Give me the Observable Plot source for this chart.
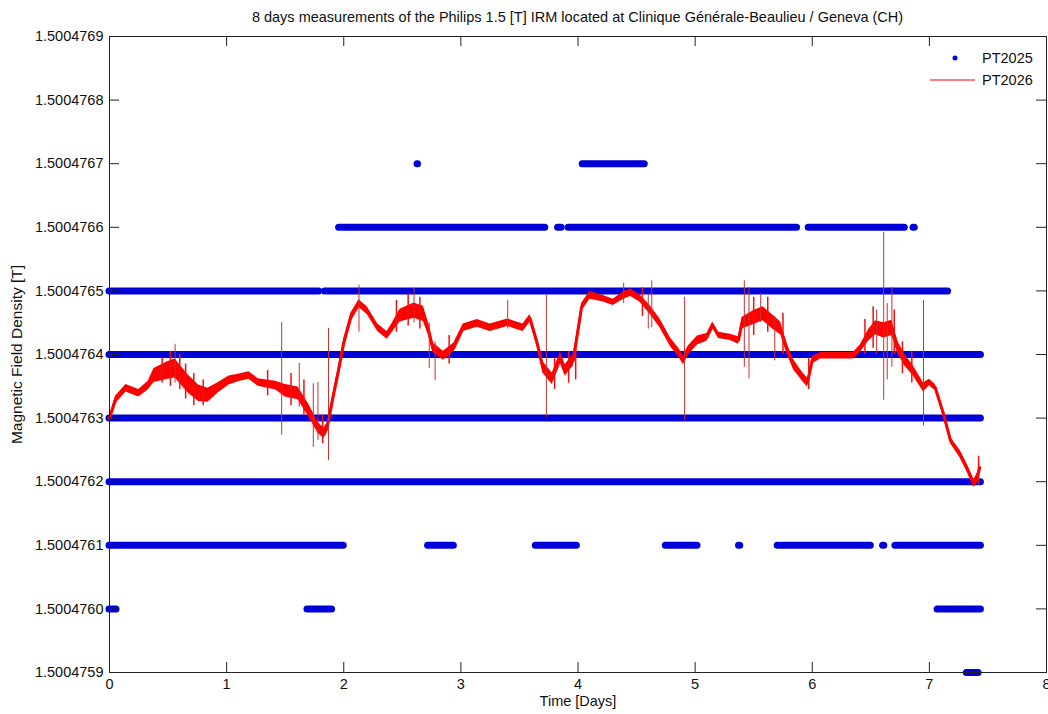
<!DOCTYPE html>
<html>
<head>
<meta charset="utf-8">
<script src="https://cdn.jsdelivr.net/npm/d3@7"></script>
<script src="https://cdn.jsdelivr.net/npm/@observablehq/plot@0.6"></script>
<style>
  html, body { margin: 0; padding: 0; background: #fff; }
  body { width: 1048px; height: 714px; position: relative; overflow: hidden;
         font-family: "Liberation Sans", Arial, sans-serif; color: #111; }
  #chart { position: absolute; top: 20px; left: 0; }
  #title { position: absolute; top: 10px; left: 109px; width: 937px; text-align: center;
           font-size: 14.5px; line-height: 14px; white-space: nowrap; z-index: 2; }
  #legend { position: absolute; left: 925px; top: 48px; font-size: 14.5px; z-index: 2; }
  .lg { position: relative; height: 22px; width: 120px; }
  .lg svg { position: absolute; left: 0; top: 0; }
  .lg span { position: absolute; left: 57px; top: 3px; line-height: 14px; }
</style>
</head>
<body>
<div id="chart"></div>
<div id="title">8 days measurements of the Philips 1.5 [T] IRM located at Clinique Générale-Beaulieu / Geneva (CH)</div>
<div id="legend">
  <div class="lg"><svg width="55" height="22"><circle cx="30" cy="10" r="2.5" fill="#0000d8"></circle></svg><span>PT2025</span></div>
  <div class="lg"><svg width="55" height="22"><line x1="5" x2="50" y1="10" y2="10" stroke="#ff0000" stroke-width="1"></line></svg><span>PT2026</span></div>
</div>
<script>
// Axis ticks
const xTicks = [0, 1, 2, 3, 4, 5, 6, 7, 8];
const yTicks = [1.5004759, 1.5004760, 1.5004761, 1.5004762, 1.5004763, 1.5004764,
                1.5004765, 1.5004766, 1.5004767, 1.5004768, 1.5004769];

// PT2025: quantized readings, runs of consecutive samples at a level [T], start/end [days]
const runLevel = [1.5004767, 1.5004767,
                  1.5004766, 1.5004766, 1.5004766, 1.5004766, 1.5004766,
                  1.5004765, 1.5004765,
                  1.5004764, 1.5004763, 1.5004762,
                  1.5004761, 1.5004761, 1.5004761, 1.5004761, 1.5004761, 1.5004761, 1.5004761, 1.5004761, 1.5004761,
                  1.5004760, 1.5004760, 1.5004760,
                  1.5004759];
const runStart = [2.630, 4.04,
                  1.96, 3.83, 3.92, 5.97, 6.865,
                  0.00, 1.84,
                  0.00, 0.00, 0.00,
                  0.00, 2.72, 3.64, 4.75, 5.375, 5.705, 5.74, 6.605, 6.71,
                  0.00, 1.69, 7.07,
                  7.32];
const runEnd   = [2.634, 4.57,
                  3.72, 3.86, 5.87, 6.79, 6.875,
                  1.79, 7.16,
                  7.44, 7.44, 7.44,
                  2.00, 2.94, 3.99, 5.02, 5.385, 5.715, 6.50, 6.615, 7.44,
                  0.06, 1.90, 7.44,
                  7.42];

// PT2026: field [T] vs time [days], with noise half-width [µT]
const redDays = [0.00, 0.05, 0.14, 0.25, 0.33, 0.38, 0.50, 0.56, 0.67, 0.76, 0.84, 0.93, 1.02, 1.10, 1.19, 1.27,
  1.42, 1.50, 1.61, 1.70, 1.78, 1.83, 1.86, 1.90, 1.95, 2.00, 2.06, 2.13, 2.20, 2.29, 2.37, 2.41, 2.48, 2.60,
  2.68, 2.72, 2.76, 2.85, 2.94, 3.02, 3.14, 3.25, 3.40, 3.53, 3.59, 3.65, 3.70, 3.78, 3.85, 3.89, 3.96, 4.00,
  4.03, 4.10, 4.21, 4.30, 4.39, 4.45, 4.53, 4.62, 4.70, 4.79, 4.86, 4.90, 4.94, 5.02, 5.10, 5.15, 5.20, 5.30,
  5.37, 5.40, 5.50, 5.58, 5.67, 5.73, 5.78, 5.84, 5.92, 5.96, 6.00, 6.07, 6.24, 6.35, 6.41, 6.48, 6.54, 6.61,
  6.68, 6.73, 6.79, 6.86, 6.95, 7.00, 7.05, 7.12, 7.18, 7.26, 7.32, 7.38, 7.41, 7.43];
const redField = [1.500476300, 1.500476328, 1.500476347, 1.500476339, 1.500476351, 1.500476367, 1.500476375,
  1.500476378, 1.500476354, 1.500476339, 1.500476336, 1.500476348, 1.500476359, 1.500476363, 1.500476367,
  1.500476356, 1.500476351, 1.500476343, 1.500476339, 1.500476312, 1.500476285, 1.500476276, 1.500476285,
  1.500476325, 1.500476370, 1.500476418, 1.500476458, 1.500476480, 1.500476469, 1.500476442, 1.500476430,
  1.500476441, 1.500476461, 1.500476469, 1.500476464, 1.500476442, 1.500476411, 1.500476398, 1.500476411,
  1.500476442, 1.500476449, 1.500476442, 1.500476450, 1.500476442, 1.500476457, 1.500476419, 1.500476380,
  1.500476362, 1.500476395, 1.500476375, 1.500476391, 1.500476438, 1.500476474, 1.500476493, 1.500476488,
  1.500476482, 1.500476493, 1.500476497, 1.500476488, 1.500476469, 1.500476449, 1.500476419, 1.500476403,
  1.500476391, 1.500476406, 1.500476422, 1.500476427, 1.500476446, 1.500476430, 1.500476427, 1.500476422,
  1.500476449, 1.500476458, 1.500476464, 1.500476450, 1.500476441, 1.500476411, 1.500476384, 1.500476364,
  1.500476356, 1.500476391, 1.500476398, 1.500476398, 1.500476398, 1.500476409, 1.500476430, 1.500476442,
  1.500476438, 1.500476442, 1.500476411, 1.500476391, 1.500476375, 1.500476348, 1.500476356, 1.500476348,
  1.500476307, 1.500476265, 1.500476244, 1.500476222, 1.500476197, 1.500476207, 1.500476222];
const redNoise = [0.004, 0.006, 0.006, 0.006, 0.007, 0.011, 0.014, 0.015, 0.014, 0.013, 0.011, 0.008, 0.007, 0.006,
  0.006, 0.006, 0.007, 0.010, 0.010, 0.010, 0.009, 0.008, 0.008, 0.007, 0.007, 0.007, 0.007, 0.006, 0.006,
  0.006, 0.006, 0.007, 0.010, 0.012, 0.012, 0.010, 0.008, 0.007, 0.007, 0.006, 0.006, 0.006, 0.006, 0.006,
  0.006, 0.007, 0.009, 0.009, 0.009, 0.009, 0.009, 0.007, 0.006, 0.006, 0.005, 0.005, 0.006, 0.006, 0.006,
  0.007, 0.007, 0.007, 0.007, 0.007, 0.007, 0.007, 0.006, 0.005, 0.005, 0.005, 0.006, 0.009, 0.011, 0.011,
  0.011, 0.010, 0.008, 0.008, 0.007, 0.007, 0.006, 0.005, 0.005, 0.005, 0.006, 0.009, 0.011, 0.012, 0.012,
  0.010, 0.009, 0.008, 0.007, 0.005, 0.005, 0.005, 0.005, 0.006, 0.006, 0.006, 0.007, 0.007];

// PT2026 large isolated spikes: time [days], low and high [T]
const spikeDays = [0.56, 1.47, 1.62, 1.74, 1.78, 1.87, 2.13, 2.60, 2.73, 2.78, 3.40, 3.73, 4.39, 4.60, 4.63, 4.91,
  5.42, 5.46, 5.56, 5.68, 6.55, 6.61, 6.64, 6.68, 6.95];
const spikeLow  = [1.500476355, 1.500476273, 1.500476317, 1.500476254, 1.500476265, 1.500476233, 1.500476435,
  1.500476450, 1.500476378, 1.500476359, 1.500476440, 1.500476301, 1.500476480, 1.500476440, 1.500476442,
  1.500476296, 1.500476380, 1.500476362, 1.500476450, 1.500476390, 1.500476400, 1.500476328, 1.500476360,
  1.500476380, 1.500476288];
const spikeHigh = [1.500476416, 1.500476450, 1.500476386, 1.500476354, 1.500476356, 1.500476441, 1.500476509,
  1.500476504, 1.500476450, 1.500476420, 1.500476485, 1.500476493, 1.500476512, 1.500476495, 1.500476516,
  1.500476490, 1.500476516, 1.500476505, 1.500476496, 1.500476460, 1.500476470, 1.500476592, 1.500476480,
  1.500476505, 1.500476485];

// PT2026 small noise excursions: time [days], low and high [T]
const jitDays = [0.45, 0.52, 0.60, 0.65, 0.72, 0.80, 1.35, 1.55, 1.66, 1.82, 2.45, 2.55, 2.65, 2.90, 3.80, 3.92,
  3.98, 4.55, 5.50, 5.62, 5.75, 5.97, 6.45, 6.52, 6.70, 6.77, 6.85, 7.42];
const jitLow  = [1.500476355, 1.500476350, 1.500476345, 1.500476330, 1.500476320, 1.500476320, 1.500476335,
  1.500476320, 1.500476305, 1.500476260, 1.500476435, 1.500476445, 1.500476440, 1.500476385, 1.500476345,
  1.500476355, 1.500476360, 1.500476460, 1.500476430, 1.500476435, 1.500476400, 1.500476345, 1.500476400,
  1.500476410, 1.500476400, 1.500476370, 1.500476355, 1.500476195];
const jitHigh = [1.500476395, 1.500476405, 1.500476400, 1.500476385, 1.500476370, 1.500476360, 1.500476375,
  1.500476370, 1.500476360, 1.500476305, 1.500476485, 1.500476495, 1.500476490, 1.500476430, 1.500476395,
  1.500476405, 1.500476410, 1.500476505, 1.500476490, 1.500476490, 1.500476465, 1.500476395, 1.500476455,
  1.500476475, 1.500476470, 1.500476420, 1.500476405, 1.500476240];

const runs = runLevel.map((level, i) => ({level, start: runStart[i], end: runEnd[i]}));
const red = redDays.map((t, i) => ({t, v: redField[i], lo: redField[i] - redNoise[i] * 1e-6, hi: redField[i] + redNoise[i] * 1e-6}));
const spikes = spikeDays.map((t, i) => ({t, lo: spikeLow[i], hi: spikeHigh[i]}));
const jitter = jitDays.map((t, i) => ({t, lo: jitLow[i], hi: jitHigh[i]}));

const W = 1048, H = 694, mL = 109, mR = 2, mT = 16, mB = 42;
const pw = W - mL - mR, ph = H - mT - mB, tl = 10;
const axisColor = "#222";

const chart = Plot.plot({
  width: W, height: H,
  marginLeft: mL, marginRight: mR, marginTop: mT, marginBottom: mB,
  style: {fontFamily: "'Liberation Sans', Arial, sans-serif", fontSize: "14.5px", color: "#111", background: "transparent"},
  x: {domain: [xTicks[0], xTicks[xTicks.length - 1]]},
  y: {domain: [yTicks[0], yTicks[yTicks.length - 1]]},
  marks: [
    Plot.ruleY(runs, {y: "level", x1: "start", x2: "end", stroke: "#0000d8", strokeWidth: 7, strokeLinecap: "round"}),
    Plot.areaY(red, {x: "t", y1: "lo", y2: "hi", fill: "#ff0000", curve: "linear"}),
    Plot.line(red, {x: "t", y: "v", stroke: "#ff0000", strokeWidth: 3}),
    Plot.ruleX(jitter, {x: "t", y1: "lo", y2: "hi", stroke: "#f01010", strokeWidth: 1.5}),
    Plot.ruleX(spikes, {x: "t", y1: "lo", y2: "hi", stroke: "#c83030", strokeWidth: 1}),
    Plot.frame({stroke: axisColor, strokeWidth: 1}),
    // inward ticks on all four sides
    Plot.ruleX(xTicks, {x: d => d, insetTop: ph - tl, stroke: axisColor}),
    Plot.ruleX(xTicks, {x: d => d, insetBottom: ph - tl, stroke: axisColor}),
    Plot.ruleY(yTicks, {y: d => d, insetRight: pw - tl, stroke: axisColor}),
    Plot.ruleY(yTicks, {y: d => d, insetLeft: pw - tl, stroke: axisColor}),
    Plot.axisX(xTicks, {tickSize: 0, tickPadding: 6, label: null, tickFormat: d => String(d), fill: "#111"}),
    Plot.axisY(yTicks, {tickSize: 0, tickPadding: 6, label: null, tickFormat: d => d.toFixed(7), fill: "#111"}),
    Plot.text(["Time [Days]"], {frameAnchor: "bottom", dy: 33, text: d => d, fill: "#111", fontSize: 14.5}),
    Plot.text(["Magnetic Field Density [T]"], {frameAnchor: "left", textAnchor: "middle", dx: -92, rotate: -90,
      text: d => d, fill: "#111", fontSize: 15.5})
  ]
});
document.getElementById("chart").appendChild(chart);
</script>
</body>
</html>
